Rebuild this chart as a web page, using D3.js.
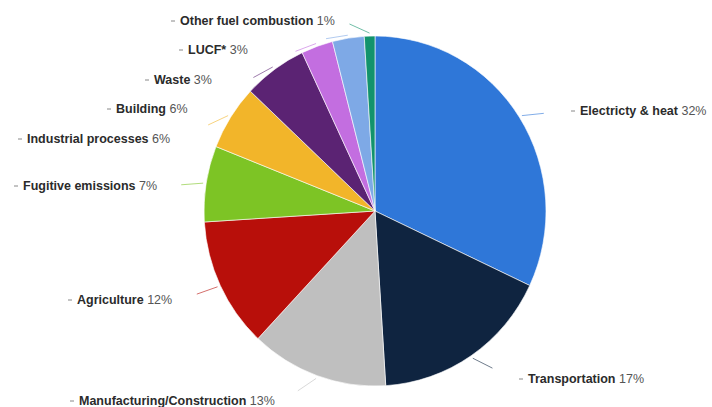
<!DOCTYPE html>
<html>
<head>
<meta charset="utf-8">
<script src="https://cdn.jsdelivr.net/npm/d3@7"></script>
<style>
	body{margin:0;background:#fff;}
	svg{display:block;}
</style>
</head>
<body>
<div id="chart"></div>
<script>
// data (share of emissions, %)
var sectors = ["Electricty & heat","Transportation","Manufacturing/Construction","Agriculture",
	"Fugitive emissions","Industrial processes","Building","Waste","LUCF*","Other fuel combustion"];
var shares = [32,17,13,12,7,6,6,3,3,1];
var colors = ["#2f77d8","#0f2440","#bfbfbf","#b80f0a","#7dc425","#f2b52a","#5b2373","#c36ee0","#7ea9e6","#12936c"];

// where each label sits (text start x, baseline y)
var labelX = [580,528,79,77,23,27,116,154,188,180];
var labelY = [115,383,405,304,190,143,113,84,54,25];

var width=712, height=407;
var cx=375, cy=211, rx=171, ry=175;

var svg = d3.select("#chart").append("svg")
	.attr("width",width)
	.attr("height",height);

var items = sectors.map(function(s,i){
	return {name:s, value:shares[i], color:colors[i], lx:labelX[i], ly:labelY[i]};
});

var pie = d3.pie()
	.sort(null)
	.value(function(d){return d.value;});

var arc = d3.arc()
	.innerRadius(0)
	.outerRadius(rx);

var arcs = pie(items);

// the pie in the picture is a touch taller than wide
var g = svg.append("g")
	.attr("transform","translate("+cx+","+cy+") scale(1,"+(ry/rx)+")");

g.selectAll("path.slice")
	.data(arcs)
	.enter()
	.append("path")
	.attr("class","slice")
	.attr("d",arc)
	.attr("fill",function(d){return d.data.color;})
	.attr("stroke","#fff")
	.attr("stroke-width",0.6);

// labels
var labels = svg.selectAll("g.lbl")
	.data(arcs)
	.enter()
	.append("g")
	.attr("class","lbl");

var txt = labels.append("text")
	.attr("x",function(d){return d.data.lx;})
	.attr("y",function(d){return d.data.ly;})
	.style("font-family","'Liberation Sans', Arial, sans-serif")
	.style("font-size","12.5px");

txt.append("tspan")
	.attr("font-weight","bold")
	.attr("fill","#2b2b2b")
	.text(function(d){return d.data.name;});

txt.append("tspan")
	.attr("fill","#555")
	.text(function(d){return " "+d.data.value+"%";});

// little dash in front of each label
labels.append("line")
	.attr("x1",function(d){return d.data.lx-9;})
	.attr("x2",function(d){return d.data.lx-5;})
	.attr("y1",function(d){return d.data.ly-4;})
	.attr("y2",function(d){return d.data.ly-4;})
	.attr("stroke","#888")
	.attr("stroke-width",1);

// leader lines from the slice edge towards its label
labels.each(function(d){
	var node = d3.select(this).select("text").node();
	var w = node.getComputedTextLength();
	var mid = (d.startAngle+d.endAngle)/2;
	var x0 = cx + (rx+3)*Math.sin(mid),
		y0 = cy - (ry+3)*Math.cos(mid);
	var right = d.data.lx > cx;
	var x1 = right ? d.data.lx-14 : d.data.lx+w+8,
		y1 = d.data.ly-4;
	var dx=x1-x0, dy=y1-y0, dist=Math.sqrt(dx*dx+dy*dy);
	var len = Math.min(22, dist-6);
	d3.select(this).append("line")
		.attr("x1",x0)
		.attr("y1",y0)
		.attr("x2",x0+dx/dist*len)
		.attr("y2",y0+dy/dist*len)
		.attr("stroke",d.data.color)
		.attr("stroke-opacity",0.6)
		.attr("stroke-width",1);
});
</script>
</body>
</html>
